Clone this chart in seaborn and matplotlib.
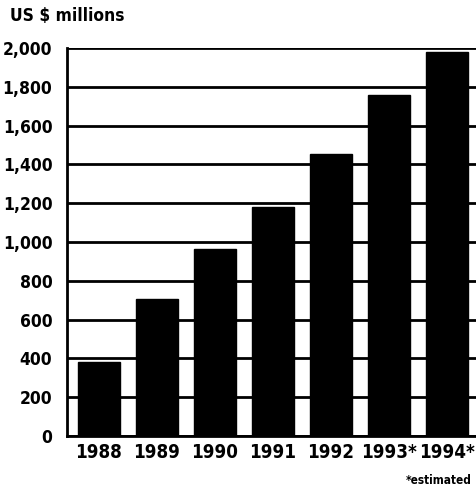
import matplotlib
matplotlib.use("Agg")
import matplotlib.pyplot as plt
import seaborn as sns
import pandas as pd

years = ["1988", "1989", "1990", "1991", "1992", "1993*", "1994*"]
values = [380, 705, 965, 1180, 1455, 1760, 1980]
yticks = [0, 200, 400, 600, 800, 1000, 1200, 1400, 1600, 1800, 2000]
ytick_labels = ["0", "200", "400", "600", "800", "1,000", "1,200", "1,400", "1,600", "1,800", "2,000"]
unit_label = "US $ millions"
note = "*estimated"

sns.set_theme(style="white")
plt.rcParams["font.family"] = ["DejaVu Sans"]
FS = "condensed"

df = pd.DataFrame({"year": years, "value": values})

fig = plt.figure(figsize=(4.76, 4.88), dpi=100)
ax = fig.add_axes([67 / 476, 52 / 488, 1 - 67 / 476, 388 / 488])
sns.barplot(data=df, x="year", y="value", color="black", width=0.72,
            edgecolor="black", saturation=1, ax=ax, zorder=3)

ax.set_ylim(0, 2000)
ax.set_xlim(-0.55, 6.5)
ax.set_yticks(yticks)
ax.set_yticklabels(ytick_labels)
ax.set_xlabel("")
ax.set_ylabel("")
ax.yaxis.grid(True, color="black", linewidth=2, zorder=1)
ax.set_axisbelow(True)
for s in ["top", "right"]:
    ax.spines[s].set_visible(False)
for s in ["left", "bottom"]:
    ax.spines[s].set_visible(True)
    ax.spines[s].set_color("black")
    ax.spines[s].set_linewidth(2)

ax.tick_params(axis="y", length=7.5, width=2, color="black", pad=3,
               labelcolor="black")
ax.tick_params(axis="x", length=0, pad=5, labelcolor="black")
for lbl in ax.get_yticklabels():
    lbl.set_fontweight("bold")
    lbl.set_fontstretch(FS)
    lbl.set_fontsize(12.5)
for lbl in ax.get_xticklabels():
    lbl.set_fontweight("bold")
    lbl.set_fontstretch(FS)
    lbl.set_fontsize(13.5)
ticks = ax.yaxis.get_major_ticks()
for t in ticks[:-1]:
    t.tick1line.set_visible(False)

fig.text(10 / 476, 1 - 7 / 488, unit_label, ha="left", va="top",
         fontsize=12.5, fontweight="bold", fontstretch=FS, color="black")
fig.text(472 / 476, 1 - 484 / 488, note, ha="right", va="baseline",
         fontsize=8.5, fontweight="bold", fontstretch=FS, color="black")

fig.savefig("out.png", dpi=100, facecolor="white")
